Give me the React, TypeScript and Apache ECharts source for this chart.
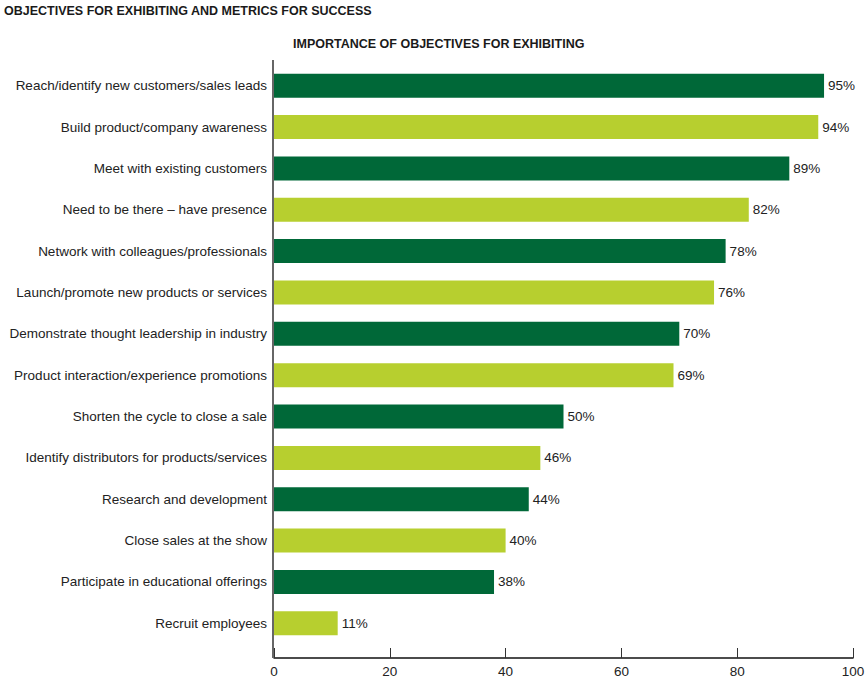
import React, { useEffect, useRef } from "react";
import * as echarts from "echarts";

const categories = [
  "Reach/identify new customers/sales leads",
  "Build product/company awareness",
  "Meet with existing customers",
  "Need to be there – have presence",
  "Network with colleagues/professionals",
  "Launch/promote new products or services",
  "Demonstrate thought leadership in industry",
  "Product interaction/experience promotions",
  "Shorten the cycle to close a sale",
  "Identify distributors for products/services",
  "Research and development",
  "Close sales at the show",
  "Participate in educational offerings",
  "Recruit employees",
];
const values = [95, 94, 89, 82, 78, 76, 70, 69, 50, 46, 44, 40, 38, 11];
const barColors = ["#006838", "#B7CF2F"];
const xTicks = { min: 0, max: 100, interval: 20 };

const FONT = "'Liberation Sans', Arial, sans-serif";

export default function App() {
  const ref = useRef<HTMLDivElement>(null);
  useEffect(() => {
    if (!ref.current) return;
    const chart = echarts.init(ref.current, null, { renderer: "svg" });
    chart.setOption({
      animation: false,
      backgroundColor: "#ffffff",
      textStyle: { fontFamily: FONT },
      title: [
        {
          text: "OBJECTIVES FOR EXHIBITING AND METRICS FOR SUCCESS",
          left: 4,
          top: 4,
          padding: 0,
          textStyle: { fontFamily: FONT, fontWeight: "bold", fontSize: 12.5, color: "#1a1a1a" },
        },
        {
          text: "IMPORTANCE OF OBJECTIVES FOR EXHIBITING",
          left: 293,
          top: 37,
          padding: 0,
          textStyle: { fontFamily: FONT, fontWeight: "bold", fontSize: 12.5, color: "#1a1a1a" },
        },
      ],
      grid: { left: 274, right: 14, top: 65, bottom: 35, outerBoundsMode: "none", containLabel: false },
      xAxis: {
        type: "value",
        min: xTicks.min,
        max: xTicks.max,
        interval: xTicks.interval,
        offset: 14,
        axisLine: { show: true, lineStyle: { color: "#111", width: 1.5 } },
        axisTick: { show: true, inside: true, length: 10, lineStyle: { color: "#333", width: 1 } },
        axisLabel: { fontFamily: FONT, fontSize: 13.5, color: "#222", margin: 6 },
        splitLine: { show: false },
      },
      yAxis: {
        type: "category",
        data: categories,
        inverse: true,
        axisLine: { show: false },
        axisTick: { show: false },
        axisLabel: { fontFamily: FONT, fontSize: 13.5, color: "#222", margin: 7 },
      },
      graphic: [
        {
          type: "line",
          shape: { x1: 273, y1: 60, x2: 273, y2: 658 },
          style: { stroke: "#666", lineWidth: 2 },
          z: 10,
        },
      ],
      series: [
        {
          type: "bar",
          data: values,
          barWidth: 24,
          itemStyle: {
            color: (p: any) => barColors[p.dataIndex % 2],
          },
          label: {
            show: true,
            position: "right",
            distance: 4,
            formatter: "{c}%",
            fontFamily: FONT,
            fontSize: 13.5,
            color: "#222",
          },
        },
      ],
    });
    return () => chart.dispose();
  }, []);
  return <div ref={ref} style={{ width: 867, height: 679, position: "absolute", left: 0, top: 0 }} />;
}
